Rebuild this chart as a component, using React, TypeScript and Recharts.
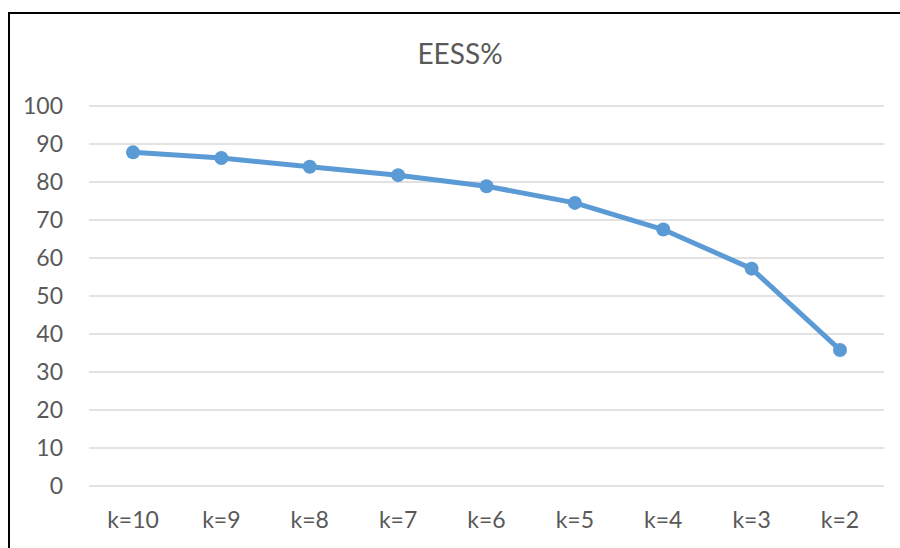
import { LineChart, Line, XAxis, YAxis, CartesianGrid } from 'recharts';

const categories = ['k=10', 'k=9', 'k=8', 'k=7', 'k=6', 'k=5', 'k=4', 'k=3', 'k=2'];
const eessValues = [87.8, 86.3, 84.0, 81.8, 78.9, 74.5, 67.5, 57.2, 35.8];
const yTicks = [0, 10, 20, 30, 40, 50, 60, 70, 80, 90, 100];

const data = categories.map((k, i) => ({ k, eess: eessValues[i] }));

const FONT = 'Lato, "Open Sans", sans-serif';
const TEXT = '#595959';

export default function App() {
  return (
    <div style={{ position: 'absolute', left: 0, top: 0, width: 900, height: 548, background: '#fff', overflow: 'hidden' }}>
      {/* frame: only top and left edges show */}
      <div
        style={{
          position: 'absolute', left: 8, top: 12, width: 900, height: 540,
          borderTop: '2px solid #000', borderLeft: '2px solid #000',
        }}
      />
      <div
        style={{
          position: 'absolute', left: 0, top: 36, width: 920, textAlign: 'center',
          fontFamily: FONT, fontSize: 28, lineHeight: '34px', color: TEXT,
        }}
      >
        EESS%
      </div>
      <div style={{ position: 'absolute', left: 0, top: 0 }}>
        <LineChart
          width={900}
          height={548}
          data={data}
          margin={{ top: 106, right: 16, bottom: 22, left: 0 }}
        >
          <CartesianGrid vertical={false} stroke="#D9D9D9" strokeWidth={1.5} />
          <XAxis
            dataKey="k"
            height={40}
            padding={{ left: 44, right: 44 }}
            axisLine={false}
            tickLine={false}
            tickMargin={20}
            tick={{ fill: TEXT, fontSize: 23, fontFamily: FONT }}
            interval={0}
          />
          <YAxis
            width={89}
            domain={[0, 100]}
            ticks={yTicks}
            axisLine={false}
            tickLine={false}
            tickMargin={20}
            tick={{ fill: TEXT, fontSize: 23, fontFamily: FONT }}
          />
          <Line
            type="linear"
            dataKey="eess"
            stroke="#5B9BD5"
            strokeWidth={5}
            dot={{ r: 7, fill: '#5B9BD5', stroke: '#5B9BD5', strokeWidth: 0 }}
            activeDot={false}
            isAnimationActive={false}
          />
        </LineChart>
      </div>
    </div>
  );
}
